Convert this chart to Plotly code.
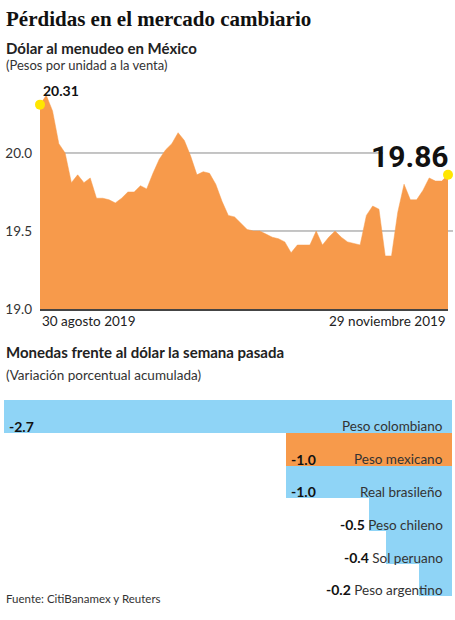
import plotly.graph_objects as go
import pandas as pd

# ---------------- data ----------------
start_date = "2019-08-30"
end_date = "2019-11-29"
dates = pd.bdate_range(start_date, end_date)
rate = [20.31, 20.37, 20.27, 20.06, 20.00, 19.81, 19.86, 19.81, 19.84, 19.71,
        19.71, 19.70, 19.68, 19.71, 19.75, 19.75, 19.79, 19.77, 19.87, 19.96,
        20.02, 20.06, 20.13, 20.08, 19.98, 19.86, 19.88, 19.87, 19.80, 19.69,
        19.60, 19.59, 19.55, 19.51, 19.50, 19.50, 19.48, 19.46, 19.45, 19.43,
        19.36, 19.41, 19.41, 19.41, 19.50, 19.41, 19.46, 19.50, 19.46, 19.43,
        19.42, 19.41, 19.60, 19.66, 19.64, 19.34, 19.34, 19.62, 19.80, 19.70,
        19.70, 19.76, 19.84, 19.82, 19.82, 19.86]
y_ticks = [19.0, 19.5, 20.0]
y_ticktext = ["19.0", "19.5", "20.0"]
date_labels = ["30 agosto 2019", "29 noviembre 2019"]

currencies = ["Peso colombiano", "Peso mexicano", "Real brasileño",
              "Peso chileno", "Sol peruano", "Peso argentino"]
changes = [-2.7, -1.0, -1.0, -0.5, -0.4, -0.2]
highlight = "Peso mexicano"

# ---------------- style ----------------
W, H = 455, 620
ORANGE = "#F79A4B"
BLUE = "#8FD4F6"
YELLOW = "#FFE600"
SANS = "Lato, 'Open Sans', sans-serif"
SERIF = "'Liberation Serif', 'DejaVu Serif', serif"
NARROW = "Roboto, 'Liberation Sans', sans-serif"
TXT = "#222222"


def px(xp):
    return xp / W


def py(yp):
    return 1 - yp / H


fig = go.Figure()

# area chart
fig.add_trace(go.Scatter(
    x=dates, y=rate, mode="lines", line=dict(color=ORANGE, width=0.5),
    fill="tozeroy", fillcolor=ORANGE, hoverinfo="skip", showlegend=False,
    xaxis="x", yaxis="y"))
fig.add_trace(go.Scatter(
    x=[dates[0], dates[-1]], y=[rate[0], rate[-1]], mode="markers",
    marker=dict(color=YELLOW, size=10), cliponaxis=False,
    hoverinfo="skip", showlegend=False, xaxis="x", yaxis="y"))

# bar chart
bar_colors = [ORANGE if c == highlight else BLUE for c in currencies]
fig.add_trace(go.Bar(
    x=changes, y=currencies, orientation="h", marker=dict(color=bar_colors, line=dict(width=0)),
    hoverinfo="skip", showlegend=False, xaxis="x2", yaxis="y2"))

annotations = []
# headings
heads = [
    ("Pérdidas en el mercado cambiario", 19, dict(family=SERIF, size=21, color="#111111"), True),
    ("Dólar al menudeo en México", 49, dict(family=SANS, size=15, color=TXT), True),
    ("(Pesos por unidad a la venta)", 66, dict(family=SANS, size=13, color="#333333"), False),
    ("Monedas frente al dólar la semana pasada", 357, dict(family=SANS, size=15, color=TXT), True),
    ("(Variación porcentual acumulada)", 380, dict(family=SANS, size=13.5, color="#333333"), False),
    ("Fuente: CitiBanamex y Reuters", 606, dict(family=SANS, size=11.5, color="#333333"), False),
]
for text, yc, font, bold in heads:
    annotations.append(dict(
        text=f"<b>{text}</b>" if bold else text, xref="paper", yref="paper",
        x=px(4), y=py(yc), xanchor="left", yanchor="middle", showarrow=False, font=font))

# date labels
annotations.append(dict(text=date_labels[0], xref="x", yref="paper", x=dates[0], y=py(325),
                        xanchor="left", yanchor="middle", showarrow=False,
                        font=dict(family=SANS, size=13.5, color=TXT)))
annotations.append(dict(text=date_labels[1], xref="x", yref="paper", x=dates[-1], y=py(325),
                        xanchor="right", yanchor="middle", showarrow=False,
                        font=dict(family=SANS, size=13.5, color=TXT)))

# first / last values
annotations.append(dict(text=f"<b>{rate[0]:.2f}</b>", xref="x", yref="y", x=dates[0], y=rate[0],
                        xanchor="left", yanchor="bottom", xshift=1, yshift=4, showarrow=False,
                        font=dict(family=SANS, size=14, color="#111111")))
annotations.append(dict(text=f"<b>{rate[-1]:.2f}</b>", xref="x", yref="y", x=dates[-1], y=rate[-1],
                        xanchor="right", yanchor="bottom", xshift=3, yshift=-1, showarrow=False,
                        font=dict(family=NARROW, size=30, color="#111111")))

# bar labels
for name, v in zip(currencies, changes):
    inside = v <= -1.0
    if inside:
        annotations.append(dict(
            text=f"<b>{v:.1f}</b>", xref="x2", yref="y2", x=v, y=name,
            xanchor="left", xshift=3, yshift=-10,
            showarrow=False, font=dict(family=SANS, size=14, color="#111111")))
        label = name
    else:
        label = f"<span style='font-size:14px;color:#111111'><b>{v:.1f}</b></span> {name}"
    annotations.append(dict(
        text=label, xref="x2", yref="y2", x=0, y=name, xanchor="right", xshift=-7, yshift=-10,
        showarrow=False, font=dict(family=SANS, size=13.5, color="#333333")))

shapes = [
    dict(type="line", xref="paper", yref="y", x0=px(40), x1=px(383), y0=20.0, y1=20.0,
         line=dict(color="#8a8a8a", width=1), layer="below"),
    dict(type="line", xref="paper", yref="y", x0=px(40), x1=px(453), y0=19.5, y1=19.5,
         line=dict(color="#8a8a8a", width=1), layer="below"),
]

fig.update_layout(
    width=W, height=H, margin=dict(l=0, r=0, t=0, b=0),
    paper_bgcolor="white", plot_bgcolor="rgba(0,0,0,0)", showlegend=False,
    bargap=0,
    xaxis=dict(domain=[px(40), px(448)], type="date", range=[dates[0], dates[-1]],
               rangebreaks=[dict(bounds=["sat", "mon"])],
               showticklabels=False, showgrid=False, zeroline=False,
               showline=True, linecolor="#444444", linewidth=2, ticks="", anchor="y"),
    yaxis=dict(domain=[py(313), py(91.8)], range=[19.0, 20.4], tickvals=y_ticks,
               ticktext=y_ticktext, showgrid=False, zeroline=False, showline=False,
               ticks="", ticklabelstandoff=7, anchor="x",
               tickfont=dict(family=SANS, size=13.5, color="#333333")),
    xaxis2=dict(domain=[px(4), px(452)], range=[-2.7, 0], visible=False, anchor="y2"),
    yaxis2=dict(domain=[py(604), py(401)], type="category", autorange="reversed",
                visible=False, anchor="x2"),
    annotations=annotations, shapes=shapes,
)

fig.write_html("out.html", config={"displayModeBar": False},
               post_script="document.body.style.margin='0px';document.body.style.overflow='hidden';")
